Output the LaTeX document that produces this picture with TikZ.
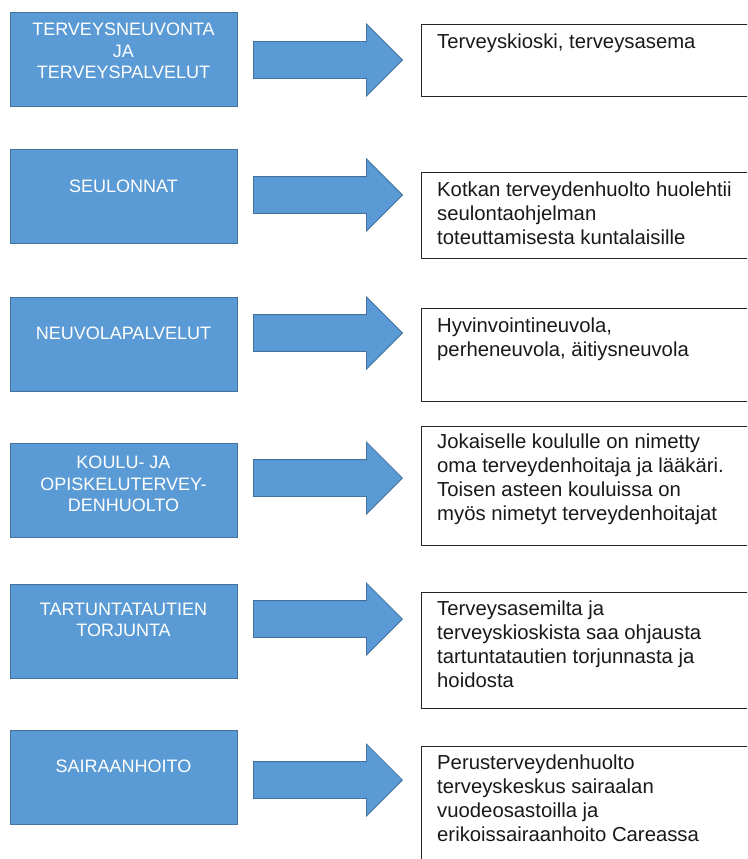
\documentclass[tikz,border=0pt]{standalone}
\usepackage{fontspec}
\setmainfont{Liberation Sans}
\usepackage{tikz}
\usetikzlibrary{
    positioning,
    shapes.arrows
}
\definecolor{officeblue}{HTML}{5B9BD5}
\definecolor{officeedge}{HTML}{41719C}
\tikzstyle{topic} = [
    rectangle,
    draw=officeedge,
    fill=officeblue,
    line width=0.8pt,
    minimum width=227pt,
    minimum height=94pt,
    inner sep=0pt
]
\tikzstyle{topiclabel} = [
    text=white,
    align=center,
    inner sep=0pt,
    font=\fontsize{18}{21.5}\selectfont
]
\tikzstyle{blockarrow} = [
    single arrow,
    draw=officeedge,
    fill=officeblue,
    line width=0.8pt,
    single arrow head extend=17.5pt,
    single arrow tip angle=90,
    single arrow head indent=0pt,
    inner xsep=0pt,
    inner ysep=18pt,
    minimum height=149pt,
    anchor=tip
]
\tikzstyle{infobox} = [
    rectangle,
    draw=black!85,
    line width=1pt,
    minimum width=340pt,
    anchor=north west,
    inner sep=0pt
]
\tikzstyle{infotext} = [
    align=left,
    inner sep=0pt,
    text=black!90,
    font=\fontsize{20.3}{24}\selectfont
]

\begin{document}
\begin{tikzpicture}[x=1pt, y=1pt]
        \useasboundingbox (0,0) rectangle (747,-859);
        \clip (0,0) rectangle (747,-859);

        % Service areas
        \node[topic] (area_neuvonta) at (123.5,-59) {};
        \node[topic] (area_seulonta) at (123.5,-196.5) {};
        \node[topic] (area_neuvola) at (123.5,-344.5) {};
        \node[topic] (area_koulu) at (123.5,-490) {};
        \node[topic] (area_tartunta) at (123.5,-631) {};
        \node[topic] (area_sairaan) at (123.5,-777) {};

        \node[topiclabel] (lab_neuvonta) at ([yshift=8pt]area_neuvonta.center) {TERVEYSNEUVONTA\\JA\\TERVEYSPALVELUT};
        \node[topiclabel] (lab_seulonta) at ([yshift=10pt]area_seulonta.center) {SEULONNAT};
        \node[topiclabel] (lab_neuvola) at ([yshift=11pt]area_neuvola.center) {NEUVOLAPALVELUT};
        \node[topiclabel] (lab_koulu) at ([yshift=6pt]area_koulu.center) {KOULU- JA\\OPISKELUTERVEY-\\DENHUOLTO};
        \node[topiclabel] (lab_tartunta) at ([yshift=11pt]area_tartunta.center) {TARTUNTATAUTIEN\\TORJUNTA};
        \node[topiclabel] (lab_sairaan) at ([yshift=11pt]area_sairaan.center) {SAIRAANHOITO};

        % Arrows
        \node[blockarrow] (arr_neuvonta) at (403,-60) {};
        \node[blockarrow] (arr_seulonta) at (403,-195) {};
        \node[blockarrow] (arr_neuvola) at (403,-333) {};
        \node[blockarrow] (arr_koulu) at (403,-478) {};
        \node[blockarrow] (arr_tartunta) at (403,-619) {};
        \node[blockarrow] (arr_sairaan) at (403,-780) {};

        % Where the service is given
        \node[infobox, minimum height=72pt] (info_neuvonta) at (421,-24) {};
        \node[infobox, minimum height=86pt] (info_seulonta) at (421,-172) {};
        \node[infobox, minimum height=93pt] (info_neuvola) at (421,-308) {};
        \node[infobox, minimum height=119pt] (info_koulu) at (421,-426) {};
        \node[infobox, minimum height=116pt] (info_tartunta) at (421,-592) {};
        \node[infobox, minimum height=130pt] (info_sairaan) at (421,-746) {};

        \node[infotext, below right=10pt and 16pt of info_neuvonta.north west] (txt_neuvonta) {Terveyskioski, terveysasema};
        \node[infotext, below right=10pt and 16pt of info_seulonta.north west] (txt_seulonta) {Kotkan terveydenhuolto huolehtii\\seulontaohjelman\\toteuttamisesta kuntalaisille};
        \node[infotext, below right=10pt and 16pt of info_neuvola.north west] (txt_neuvola) {Hyvinvointineuvola,\\perheneuvola, äitiysneuvola};
        \node[infotext, below right=8pt and 16pt of info_koulu.north west] (txt_koulu) {Jokaiselle koululle on nimetty\\oma terveydenhoitaja ja lääkäri.\\Toisen asteen kouluissa on\\myös nimetyt terveydenhoitajat};
        \node[infotext, below right=9pt and 16pt of info_tartunta.north west] (txt_tartunta) {Terveysasemilta ja\\terveyskioskista saa ohjausta\\tartuntatautien torjunnasta ja\\hoidosta};
        \node[infotext, below right=9pt and 16pt of info_sairaan.north west] (txt_sairaan) {Perusterveydenhuolto\\terveyskeskus sairaalan\\vuodeosastoilla ja\\erikoissairaanhoito Careassa};
    \end{tikzpicture}
\end{document}
